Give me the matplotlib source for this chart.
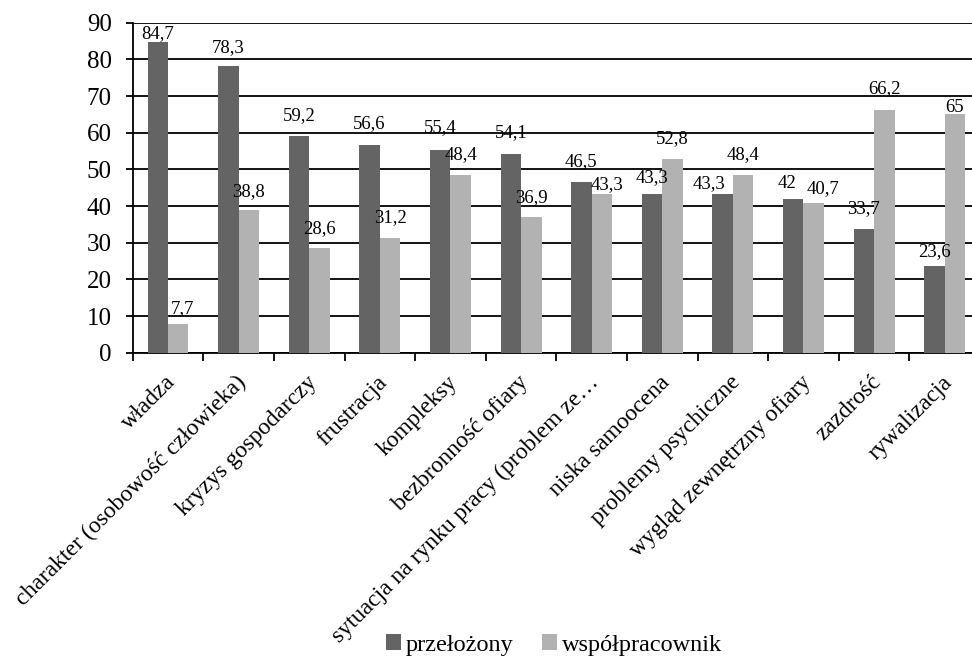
import numpy as np
import matplotlib
matplotlib.use("Agg")
import matplotlib.pyplot as plt

plt.rcParams['font.family'] = ['Liberation Serif', 'DejaVu Serif']

categories = ['władza', 'charakter (osobowość człowieka)', 'kryzys gospodarczy',
              'frustracja', 'kompleksy', 'bezbronność ofiary',
              'sytuacja na rynku pracy (problem ze…', 'niska samoocena',
              'problemy psychiczne', 'wygląd zewnętrzny ofiary', 'zazdrość',
              'rywalizacja']
przelozony = [84.7, 78.3, 59.2, 56.6, 55.4, 54.1, 46.5, 43.3, 43.3, 42, 33.7, 23.6]
wspolpracownik = [7.7, 38.8, 28.6, 31.2, 48.4, 36.9, 43.3, 52.8, 48.4, 40.7, 66.2, 65]

# label nudges in pixels (dx, gap above bar), as placed in the original
dark_dx = [0, 0, 0, 0, 0, 0, 0, 0, -14, -6, 0, 0]
dark_gap = [4, 14, 16, 17, 17, 17, 16, 12, 6, 11, 16, 10]
light_dx = [4, 0, 0, 0, 0, 0, 5, 0, 0, 9, 0, 0]
light_gap = [11, 14, 15, 16, 16, 15, 5, 16, 16, 10, 17, 2]

dark = '#646464'
light = '#b2b2b2'

fig = plt.figure(figsize=(9.72, 6.59), dpi=100)
# plot area runs slightly past the right edge of the picture
ax = fig.add_axes([132.7 / 972, 1 - 352.7 / 659, (980 - 132.7) / 972, 330 / 659])

x = np.arange(len(categories))
w = 0.29
ax.bar(x - w / 2, przelozony, w, color=dark, label='przełożony', zorder=3)
ax.bar(x + w / 2, wspolpracownik, w, color=light, label='współpracownik', zorder=3)

def fmt(v):
    return ('%g' % v).replace('.', ',')

px = 0.72  # points per pixel at dpi 100
for xs, vals, dxs, gaps in [(x - w / 2, przelozony, dark_dx, dark_gap),
                            (x + w / 2, wspolpracownik, light_dx, light_gap)]:
    for xi, v, dx, g in zip(xs, vals, dxs, gaps):
        ax.annotate(fmt(v), xy=(xi, v), xytext=(dx * px, g * px),
                    textcoords='offset points', ha='center', va='baseline',
                    fontsize=13.5, zorder=4)

ax.set_xlim(-0.5, len(categories) - 0.5)
ax.set_ylim(0, 90)
ax.set_yticks(range(0, 91, 10))
ax.yaxis.grid(True, color='black', linewidth=1.3, zorder=0)
ax.tick_params(axis='y', labelsize=18, length=5, width=1.3, color='black', pad=10)

ax.set_xticks(np.arange(len(categories) + 1) - 0.5)
ax.set_xticklabels([])
ax.tick_params(axis='x', length=6, width=1.3, color='black')
for xi, c in zip(x, categories):
    ax.annotate(c, xy=(xi, 0), xycoords=('data', 'axes fraction'),
                xytext=(3, -19), textcoords='offset points',
                rotation=45, rotation_mode='anchor', ha='right', va='center',
                fontsize=17)

for s in ['top', 'right']:
    ax.spines[s].set_visible(False)
ax.spines['left'].set_linewidth(1.3)
ax.spines['bottom'].set_linewidth(1.3)

fig.legend(loc='center', bbox_to_anchor=(554 / 972, 1 - 645 / 659), ncol=2,
           frameon=False, fontsize=17.5, handlelength=0.6, handleheight=0.6,
           handletextpad=0.2, columnspacing=1.2)

fig.savefig('out.png', dpi=100)
